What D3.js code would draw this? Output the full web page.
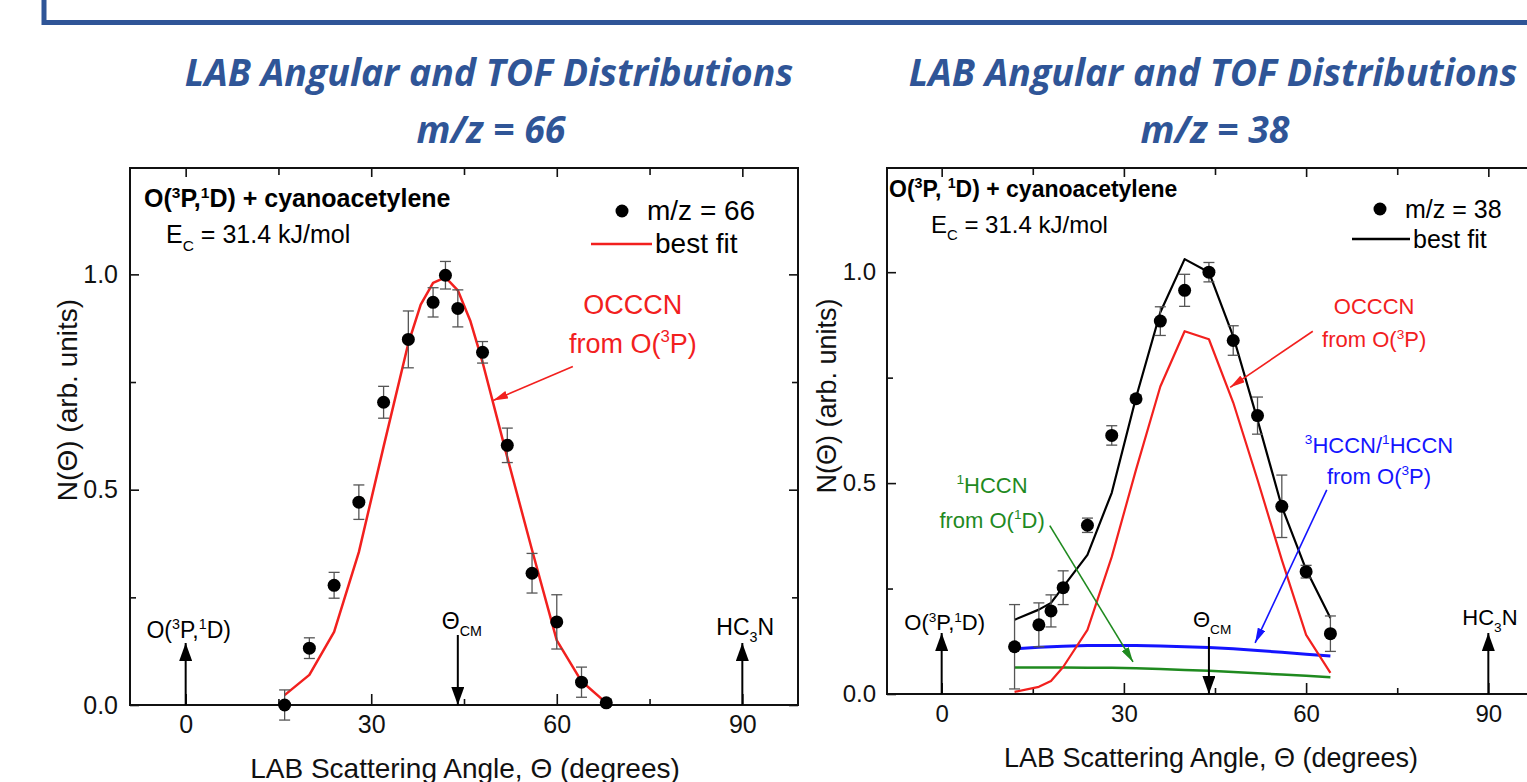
<!DOCTYPE html>
<html>
<head>
<meta charset="utf-8">
<script src="https://cdn.jsdelivr.net/npm/d3@7"></script>
<style>
  html, body { margin: 0; padding: 0; background: #fff; overflow: hidden; }
  svg { display: block; font-family: "Liberation Sans", Arial, sans-serif; }
  .title { font-family: "Open Sans", sans-serif; font-weight: 700; font-style: italic; fill: #2f5597; }
</style>
</head>
<body>
<div id="chart"></div>
<script>
// ---- data ----
// m/z = 66 panel
const angles66 = [16, 20, 24, 28, 32, 36, 40, 42, 44, 48, 52, 56, 60, 64, 68];
const signal66 = [0.0, 0.132, 0.278, 0.471, 0.703, 0.849, 0.935, 0.998, 0.921, 0.819, 0.603, 0.306, 0.193, 0.053, 0.005];
const error66 = [0.035, 0.024, 0.03, 0.04, 0.037, 0.066, 0.034, 0.032, 0.043, 0.025, 0.04, 0.046, 0.063, 0.035, 0.008];
const fitAngles66 = [16, 20, 24, 28, 32, 36, 38, 40, 42, 44, 46, 48, 52, 56, 60, 64, 68];
const fit66 = [0.023, 0.07, 0.17, 0.355, 0.6, 0.84, 0.93, 0.98, 0.993, 0.963, 0.893, 0.796, 0.575, 0.36, 0.15, 0.055, 0.005];

// m/z = 38 panel
const angles38 = [12, 16, 18, 20, 24, 28, 32, 36, 40, 44, 48, 52, 56, 60, 64];
const signal38 = [0.112, 0.164, 0.197, 0.252, 0.4, 0.613, 0.7, 0.884, 0.957, 1.0, 0.838, 0.66, 0.445, 0.29, 0.143];
const error38 = [0.1, 0.052, 0.038, 0.04, 0.017, 0.023, 0.008, 0.034, 0.038, 0.023, 0.035, 0.044, 0.074, 0.015, 0.042];
const total38 = [0.176, 0.2, 0.216, 0.254, 0.33, 0.477, 0.703, 0.905, 1.031, 1.0, 0.848, 0.65, 0.444, 0.295, 0.18];
const occcn38 = [0.005, 0.017, 0.031, 0.064, 0.152, 0.325, 0.532, 0.729, 0.86, 0.841, 0.691, 0.508, 0.318, 0.14, 0.05];
const hccnTriplet38 = [0.107, 0.111, 0.112, 0.113, 0.115, 0.115, 0.115, 0.114, 0.112, 0.11, 0.107, 0.103, 0.099, 0.094, 0.09];
const hccnSinglet38 = [0.063, 0.063, 0.063, 0.063, 0.062, 0.062, 0.061, 0.059, 0.057, 0.055, 0.052, 0.049, 0.046, 0.043, 0.04];

// axes
const xDomain = [-9, 99];
const yDomain = [0, 1.247];
const xMajor = [0, 30, 60, 90];
const xMinor = [15, 45, 75];
const yMajor = [0, 0.5, 1.0];
const yMinor = [0.25, 0.75];
const beamAngle = 0, cmAngle = 44, hc3nAngle = 90;

const BLUE = '#2f5597';
const RED = '#f2201e';
const W = 1527, H = 782;

const svg = d3.select('#chart').append('svg').attr('width', W).attr('height', H);
const defs = svg.append('defs');

function marker(id, color, len, wid) {
  defs.append('marker')
    .attr('id', id)
    .attr('viewBox', `0 ${-wid / 2} ${len} ${wid}`)
    .attr('refX', len).attr('refY', 0)
    .attr('markerWidth', len).attr('markerHeight', wid)
    .attr('markerUnits', 'userSpaceOnUse')
    .attr('orient', 'auto')
    .append('path')
    .attr('d', `M0,${-wid / 2}L${len},0L0,${wid / 2}Z`)
    .attr('fill', color);
}
marker('headBlack', '#000', 18, 13);
marker('headRed', RED, 15, 8);
marker('headBlue', '#1414ff', 15, 8);
marker('headGreen', '#1f8a1f', 15, 8);

// text with super/subscripts: parts are strings or [string, 'sup'|'sub']
function rich(g, x, y, parts, size, opts = {}) {
  const t = g.append('text').attr('x', x).attr('y', y)
    .attr('font-size', size)
    .attr('text-anchor', opts.anchor || 'start')
    .attr('fill', opts.fill || '#000')
    .attr('font-weight', opts.bold ? 700 : null);
  let shift = 0;
  parts.forEach(p => {
    const [s, kind] = typeof p === 'string' ? [p, null] : p;
    const target = kind === 'sup' ? -0.38 * size : kind === 'sub' ? 0.3 * size : 0;
    t.append('tspan')
      .attr('dy', target - shift)
      .attr('font-size', kind ? size * 0.62 : size)
      .text(s);
    shift = target;
  });
  return t;
}

// banner frame at top
svg.append('path')
  .attr('d', `M44,0V22.5H${W}`)
  .attr('fill', 'none')
  .attr('stroke', BLUE)
  .attr('stroke-width', 5);

function panel(p) {
  const x = d3.scaleLinear().domain(xDomain).range([p.left, p.right]);
  const y = d3.scaleLinear().domain(yDomain).range([p.bottom, p.top]);
  const g = svg.append('g');

  // headings above the panel
  g.append('text').attr('class', 'title').attr('x', p.titleX).attr('y', 86)
    .attr('text-anchor', 'middle').attr('font-size', 37.5)
    .text('LAB Angular and TOF Distributions');
  g.append('text').attr('class', 'title').attr('x', p.titleX + 2).attr('y', 143)
    .attr('text-anchor', 'middle').attr('font-size', 37.5)
    .text(p.mz);

  const clean = sel => {
    sel.select('.domain').remove();
    sel.attr('font-size', p.tickSize).attr('font-family', null);
    sel.selectAll('line').attr('stroke', '#111').attr('stroke-width', 1.6);
    sel.selectAll('text').attr('fill', '#111');
  };

  // axes, ticks pointing inwards on all four sides
  g.append('g').attr('transform', `translate(0,${p.bottom})`)
    .call(d3.axisBottom(x).tickValues(xMajor).tickSizeInner(-11).tickSizeOuter(0)
      .tickPadding(p.xPad).tickFormat(d3.format('d')))
    .call(clean);
  g.append('g').attr('transform', `translate(0,${p.bottom})`)
    .call(d3.axisBottom(x).tickValues(xMinor).tickSizeInner(-6).tickSizeOuter(0).tickFormat(''))
    .call(clean);
  g.append('g').attr('transform', `translate(0,${p.top})`)
    .call(d3.axisTop(x).tickValues(xMajor).tickSizeInner(-9).tickSizeOuter(0).tickFormat(''))
    .call(clean);
  g.append('g').attr('transform', `translate(0,${p.top})`)
    .call(d3.axisTop(x).tickValues(xMinor).tickSizeInner(-7).tickSizeOuter(0).tickFormat(''))
    .call(clean);
  g.append('g').attr('transform', `translate(${p.left},0)`)
    .call(d3.axisLeft(y).tickValues(yMajor).tickSizeInner(-9).tickSizeOuter(0)
      .tickPadding(p.yPad).tickFormat(d3.format('.1f')))
    .call(clean);
  g.append('g').attr('transform', `translate(${p.left},0)`)
    .call(d3.axisLeft(y).tickValues(yMinor).tickSizeInner(-6).tickSizeOuter(0).tickFormat(''))
    .call(clean);
  g.append('g').attr('transform', `translate(${p.right},0)`)
    .call(d3.axisRight(y).tickValues(yMajor).tickSizeInner(-9).tickSizeOuter(0).tickFormat(''))
    .call(clean);
  g.append('g').attr('transform', `translate(${p.right},0)`)
    .call(d3.axisRight(y).tickValues(yMinor).tickSizeInner(-6).tickSizeOuter(0).tickFormat(''))
    .call(clean);

  g.append('rect')
    .attr('x', p.left).attr('y', p.top)
    .attr('width', p.right - p.left).attr('height', p.bottom - p.top)
    .attr('fill', 'none').attr('stroke', '#111').attr('stroke-width', 2);

  // axis titles
  g.append('text')
    .attr('transform', `translate(${p.yTitle[0]},${p.yTitle[1]}) rotate(-90)`)
    .attr('text-anchor', 'middle').attr('font-size', p.yTitleSize).attr('fill', '#111')
    .text('N(\u0398) (arb. units)');
  g.append('text')
    .attr('x', p.xTitle[0]).attr('y', p.xTitle[1])
    .attr('text-anchor', 'middle').attr('font-size', p.xTitleSize).attr('fill', '#111')
    .text('LAB Scattering Angle, \u0398 (degrees)');

  // fitted curves
  const line = d3.line().x(d => x(d[0])).y(d => y(d[1]));
  p.curves.forEach(c => {
    g.append('path')
      .datum(d3.zip(c.angles, c.values))
      .attr('d', line)
      .attr('fill', 'none')
      .attr('stroke', c.color)
      .attr('stroke-width', c.width)
      .attr('stroke-linejoin', 'round');
  });

  // data with error bars
  const pts = d3.zip(p.angles, p.signal, p.error);
  const eb = g.append('g').attr('stroke', '#555').attr('stroke-width', 1.3);
  eb.selectAll('.bar').data(pts).join('line')
    .attr('x1', d => x(d[0])).attr('x2', d => x(d[0]))
    .attr('y1', d => y(d[1] - d[2])).attr('y2', d => y(d[1] + d[2]));
  [-1, 1].forEach(s => {
    eb.selectAll(null).data(pts).join('line')
      .attr('x1', d => x(d[0]) - 5.5).attr('x2', d => x(d[0]) + 5.5)
      .attr('y1', d => y(d[1] + s * d[2])).attr('y2', d => y(d[1] + s * d[2]));
  });
  g.selectAll('.dot').data(pts).join('circle')
    .attr('cx', d => x(d[0])).attr('cy', d => y(d[1]))
    .attr('r', 6.5).attr('fill', '#000');

  // beam / centre-of-mass arrows
  const arrow = (a, y1, y2) => g.append('line')
    .attr('x1', x(a)).attr('x2', x(a)).attr('y1', y1).attr('y2', y2)
    .attr('stroke', '#000').attr('stroke-width', 2)
    .attr('marker-end', 'url(#headBlack)');
  arrow(beamAngle, p.bottom, p.bottom - p.beamLen);
  arrow(hc3nAngle, p.bottom, p.bottom - p.beamLen);
  arrow(cmAngle, p.bottom - p.cmLen, p.bottom);
  const ml = p.markLabels;
  rich(g, x(beamAngle) + 3, ml.beamY, ['O(', ['3', 'sup'], 'P,', ['1', 'sup'], 'D)'], p.markSize, { anchor: 'middle' });
  rich(g, x(cmAngle) - 16, ml.cmY, ['\u0398', ['CM', 'sub']], p.markSize);
  rich(g, x(hc3nAngle) - 26, ml.hcY, ['HC', ['3', 'sub'], 'N'], p.markSize);

  // legend block
  const L = p.legend;
  rich(g, L.headX, L.headY, ['O(', ['3', 'sup'], 'P,' + (p.commaSpace ? ' ' : ''), ['1', 'sup'], 'D) + cyanoacetylene'], L.headSize, { bold: true });
  rich(g, L.ecX, L.ecY, ['E', ['C', 'sub'], ' = 31.4 kJ/mol'], L.ecSize);
  g.append('circle').attr('cx', L.dotX).attr('cy', L.dotY).attr('r', 6.5).attr('fill', '#000');
  g.append('text').attr('x', L.itemX).attr('y', L.dotY + 9).attr('font-size', L.itemSize).text(p.mz);
  g.append('line').attr('x1', L.lineX[0]).attr('x2', L.lineX[1]).attr('y1', L.lineY).attr('y2', L.lineY)
    .attr('stroke', p.fitColor).attr('stroke-width', 2.5);
  g.append('text').attr('x', L.lineX[1] + 3).attr('y', L.lineY + 9).attr('font-size', L.itemSize).text('best fit');

  // labelled annotations pointing at the curves
  p.notes.forEach(n => {
    n.lines.forEach((parts, i) => {
      rich(g, x(n.at[0]), y(n.at[1]) + i * n.gap, parts, p.noteSize, { anchor: 'middle', fill: n.color });
    });
    g.append('line')
      .attr('x1', x(n.from[0])).attr('y1', y(n.from[1]))
      .attr('x2', x(n.to[0])).attr('y2', y(n.to[1]))
      .attr('stroke', n.color).attr('stroke-width', 1.6)
      .attr('marker-end', `url(#${n.head})`);
  });
}

panel({
  left: 130, right: 798, top: 168, bottom: 705,
  titleX: 489, mz: 'm/z = 66',
  tickSize: 25, xPad: 10, yPad: 12,
  yTitle: [77, 400], yTitleSize: 28,
  xTitle: [465, 778], xTitleSize: 28,
  angles: angles66, signal: signal66, error: error66,
  fitColor: RED,
  curves: [{ angles: fitAngles66, values: fit66, color: RED, width: 2.5 }],
  beamLen: 62, cmLen: 70, markSize: 23,
  markLabels: { beamY: 638, cmY: 629, hcY: 635 },
  commaSpace: false,
  legend: {
    headX: 144, headY: 207, headSize: 25,
    ecX: 166, ecY: 243, ecSize: 25,
    dotX: 622, dotY: 211, itemX: 647, itemSize: 28,
    lineX: [591, 652], lineY: 244
  },
  noteSize: 27,
  notes: [{
    color: RED, head: 'headRed', gap: 39,
    at: [72.3, 0.909],
    lines: [['OCCCN'], ['from O(', ['3', 'sup'], 'P)']],
    from: [62.6, 0.786], to: [49.7, 0.707]
  }]
});

panel({
  left: 887, right: 1543, top: 168, bottom: 694,
  titleX: 1213, mz: 'm/z = 38',
  tickSize: 24, xPad: 11, yPad: 11,
  yTitle: [836, 396], yTitleSize: 27,
  xTitle: [1211, 767], xTitleSize: 27,
  angles: angles38, signal: signal38, error: error38,
  fitColor: '#000',
  curves: [
    { angles: angles38, values: hccnSinglet38, color: '#1f8a1f', width: 2.5 },
    { angles: angles38, values: hccnTriplet38, color: '#1414ff', width: 3 },
    { angles: angles38, values: occcn38, color: RED, width: 2.2 },
    { angles: angles38, values: total38, color: '#000', width: 2.2 }
  ],
  beamLen: 61, cmLen: 57, markSize: 22,
  markLabels: { beamY: 630, cmY: 627, hcY: 625 },
  commaSpace: true,
  legend: {
    headX: 889, headY: 197, headSize: 23,
    ecX: 931, ecY: 233, ecSize: 24,
    dotX: 1380, dotY: 209, itemX: 1405, itemSize: 25,
    lineX: [1352, 1410], lineY: 239
  },
  noteSize: 22,
  notes: [
    {
      color: RED, head: 'headRed', gap: 33,
      at: [71.2, 0.9],
      lines: [['OCCCN'], ['from O(', ['3', 'sup'], 'P)']],
      from: [61.1, 0.86], to: [47.5, 0.727]
    },
    {
      color: '#1414ff', head: 'headBlue', gap: 31,
      at: [72, 0.572],
      lines: [[['3', 'sup'], 'HCCN/', ['1', 'sup'], 'HCCN'], ['from O(', ['3', 'sup'], 'P)']],
      from: [63.4, 0.484], to: [51.6, 0.121]
    },
    {
      color: '#1f8a1f', head: 'headGreen', gap: 35,
      at: [8.3, 0.477],
      lines: [[['1', 'sup'], 'HCCN'], ['from O(', ['1', 'sup'], 'D)']],
      from: [17.8, 0.399], to: [31.5, 0.076]
    }
  ]
});
</script>
</body>
</html>
